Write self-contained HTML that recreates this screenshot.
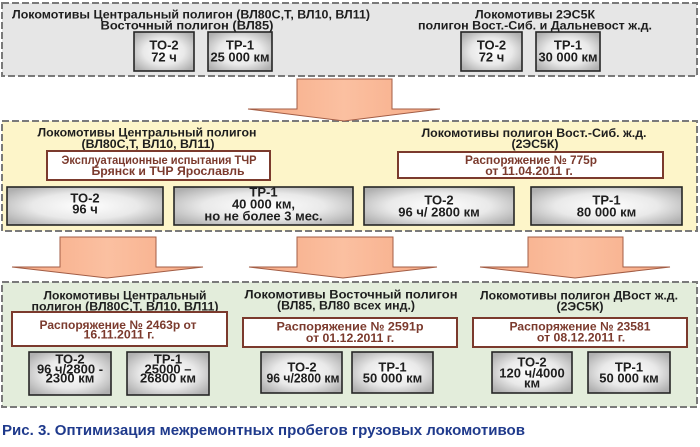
<!DOCTYPE html>
<html><head><meta charset="utf-8">
<style>
html,body{margin:0;padding:0;background:#fff;}
svg{display:block;}
text{font-family:"Liberation Sans",Arial,sans-serif;font-weight:bold;font-size:12.3px;fill:#1e1e1e;text-anchor:middle;}
.b{font-size:13px;}
.m{fill:#7b3a2d;}
.cap{font-size:14.5px;fill:#1f3a8c;text-anchor:start;}
</style></head>
<body>
<svg width="700" height="447" viewBox="0 0 700 447" xmlns="http://www.w3.org/2000/svg">
<defs>
<radialGradient id="g" cx="50%" cy="50%" r="62%">
<stop offset="0" stop-color="#ffffff"/>
<stop offset="0.55" stop-color="#e9e9e9"/>
<stop offset="1" stop-color="#b0b0b0"/>
</radialGradient>
<linearGradient id="a" x1="0" y1="0" x2="1" y2="0">
<stop offset="0" stop-color="#f6aa85"/>
<stop offset="0.5" stop-color="#fbc0a1"/>
<stop offset="1" stop-color="#f6aa85"/>
</linearGradient>
</defs>
<rect width="700" height="447" fill="#fff"/>

<!-- panels -->
<rect x="2" y="3" width="695" height="73" fill="#e6e6e6" stroke="#7a7a7a" stroke-width="2" stroke-dasharray="7 3"/>
<rect x="2" y="121" width="695" height="110" fill="#fdf5c9" stroke="#7a7a7a" stroke-width="2" stroke-dasharray="7 3"/>
<rect x="2" y="282" width="695" height="125" fill="#e3eddb" stroke="#7a7a7a" stroke-width="2" stroke-dasharray="7 3"/>

<!-- arrows -->
<g fill="url(#a)" stroke="#a35d45" stroke-width="1">
<polygon points="297,79 392,79 392,109 440,109 344,121 248,109 297,109"/>
<polygon points="60,237 156,237 156,267 203,267 107,278 12,267 60,267"/>
<polygon points="297,237 393,237 393,267 437,267 343,278 249,267 297,267"/>
<polygon points="528,237 623,237 623,267 670,267 575,278 480,267 528,267"/>
</g>

<!-- top panel -->
<text x="191" y="18.5" textLength="358" lengthAdjust="spacingAndGlyphs">Локомотивы Центральный полигон (ВЛ80С,Т, ВЛ10, ВЛ11)</text>
<text x="187" y="29.5" textLength="173" lengthAdjust="spacingAndGlyphs">Восточный полигон (ВЛ85)</text>
<text x="535" y="18.5" textLength="120" lengthAdjust="spacingAndGlyphs">Локомотивы 2ЭС5К</text>
<text x="535" y="29.5" textLength="234" lengthAdjust="spacingAndGlyphs">полигон Вост.-Сиб. и Дальневост ж.д.</text>
<g fill="url(#g)" stroke="#262626" stroke-width="1.6">
<rect x="134" y="32" width="60" height="39"/>
<rect x="208" y="32" width="64" height="39"/>
<rect x="461" y="32" width="61" height="39"/>
<rect x="536" y="32" width="64" height="39"/>
</g>
<g class="b">
<text class="b" x="164" y="49.5">ТО-2</text><text class="b" x="164" y="61.5">72 ч</text>
<text class="b" x="240" y="49.5">ТР-1</text><text class="b" x="240" y="61.5" textLength="59" lengthAdjust="spacingAndGlyphs">25 000 км</text>
<text class="b" x="491.5" y="49.5">ТО-2</text><text class="b" x="491.5" y="61.5">72 ч</text>
<text class="b" x="568" y="49.5">ТР-1</text><text class="b" x="568" y="61.5" textLength="59" lengthAdjust="spacingAndGlyphs">30 000 км</text>
</g>

<!-- middle panel -->
<text x="147" y="136.5" textLength="219" lengthAdjust="spacingAndGlyphs">Локомотивы Центральный полигон</text>
<text x="148" y="148" textLength="133" lengthAdjust="spacingAndGlyphs">(ВЛ80С,Т, ВЛ10, ВЛ11)</text>
<text x="534" y="137" textLength="225" lengthAdjust="spacingAndGlyphs">Локомотивы полигон Вост.-Сиб. ж.д.</text>
<text x="535" y="148">(2ЭС5К)</text>
<g fill="#fff" stroke="#7b3a2d" stroke-width="2">
<rect x="47" y="151" width="223" height="29"/>
<rect x="398" y="152" width="265" height="26"/>
</g>
<text class="m" x="159" y="164" textLength="195" lengthAdjust="spacingAndGlyphs">Эксплуатационные испытания ТЧР</text>
<text class="m" x="168" y="175" textLength="153" lengthAdjust="spacingAndGlyphs">Брянск и ТЧР Ярославль</text>
<text class="m" x="531" y="164" textLength="132" lengthAdjust="spacingAndGlyphs">Распоряжение № 775р</text>
<text class="m" x="529" y="175">от 11.04.2011 г.</text>
<g fill="url(#g)" stroke="#262626" stroke-width="1.6">
<rect x="7" y="187" width="156" height="38"/>
<rect x="174" y="187" width="179" height="38"/>
<rect x="364" y="187" width="150" height="38"/>
<rect x="531" y="187" width="151" height="38"/>
</g>
<text class="b" x="85" y="202.5">ТО-2</text><text class="b" x="85" y="213.5">96 ч</text>
<text class="b" x="263.5" y="196.5">ТР-1</text><text class="b" x="263.5" y="208.5">40 000 км,</text><text class="b" x="263.5" y="220.5">но не более 3 мес.</text>
<text class="b" x="439" y="204.5">ТО-2</text><text class="b" x="439" y="216.5">96 ч/ 2800 км</text>
<text class="b" x="606.5" y="204.5">ТР-1</text><text class="b" x="606.5" y="216.5">80 000 км</text>

<!-- bottom panel -->
<text x="125" y="299.5" textLength="163" lengthAdjust="spacingAndGlyphs">Локомотивы Центральный</text>
<text x="125" y="310.5" textLength="187" lengthAdjust="spacingAndGlyphs">полигон (ВЛ80С,Т, ВЛ10, ВЛ11)</text>
<text x="351" y="298.5" textLength="213" lengthAdjust="spacingAndGlyphs">Локомотивы Восточный полигон</text>
<text x="346" y="309.5" textLength="138" lengthAdjust="spacingAndGlyphs">(ВЛ85, ВЛ80 всех инд.)</text>
<text x="579" y="299.5" textLength="198" lengthAdjust="spacingAndGlyphs">Локомотивы полигон ДВост ж.д.</text>
<text x="580" y="310.5">(2ЭС5К)</text>
<g fill="#fff" stroke="#7b3a2d" stroke-width="2">
<rect x="12" y="312" width="215" height="34"/>
<rect x="243" y="318" width="214" height="29"/>
<rect x="473" y="318" width="214" height="29"/>
</g>
<text class="m" x="118" y="329" textLength="157" lengthAdjust="spacingAndGlyphs">Распоряжение № 2463р от</text>
<text class="m" x="119" y="338.5">16.11.2011 г.</text>
<text class="m" x="350" y="330.5" textLength="147" lengthAdjust="spacingAndGlyphs">Распоряжение № 2591р</text>
<text class="m" x="350" y="342">от 01.12.2011 г.</text>
<text class="m" x="580" y="330.5" textLength="141" lengthAdjust="spacingAndGlyphs">Распоряжение № 23581</text>
<text class="m" x="581" y="341.5">от 08.12.2011 г.</text>
<g fill="url(#g)" stroke="#262626" stroke-width="1.6">
<rect x="29" y="352" width="82" height="43"/>
<rect x="127" y="352" width="82" height="43"/>
<rect x="261" y="352" width="81" height="41"/>
<rect x="352" y="352" width="81" height="41"/>
<rect x="492" y="352" width="80" height="41"/>
<rect x="588" y="352" width="82" height="41"/>
</g>
<text class="b" x="70" y="363.5">ТО-2</text><text class="b" x="70" y="373.5">96 ч/2800 -</text><text class="b" x="70" y="382.5">2300 км</text>
<text class="b" x="168" y="363.5">ТР-1</text><text class="b" x="168" y="373.5">25000 –</text><text class="b" x="168" y="382.5">26800 км</text>
<text class="b" x="302" y="371.5">ТО-2</text><text class="b" x="303" y="382.5" textLength="73" lengthAdjust="spacingAndGlyphs">96 ч/2800 км</text>
<text class="b" x="392.5" y="371.5">ТР-1</text><text class="b" x="392.5" y="382.5">50 000 км</text>
<text class="b" x="532" y="366.5">ТО-2</text><text class="b" x="532" y="377.5">120 ч/4000</text><text class="b" x="532" y="387.5">км</text>
<text class="b" x="629" y="371.5">ТР-1</text><text class="b" x="629" y="382.5">50 000 км</text>

<!-- caption -->
<text class="cap" x="2" y="435" textLength="523" lengthAdjust="spacingAndGlyphs">Рис. 3. Оптимизация межремонтных пробегов грузовых локомотивов</text>
</svg>
</body></html>
